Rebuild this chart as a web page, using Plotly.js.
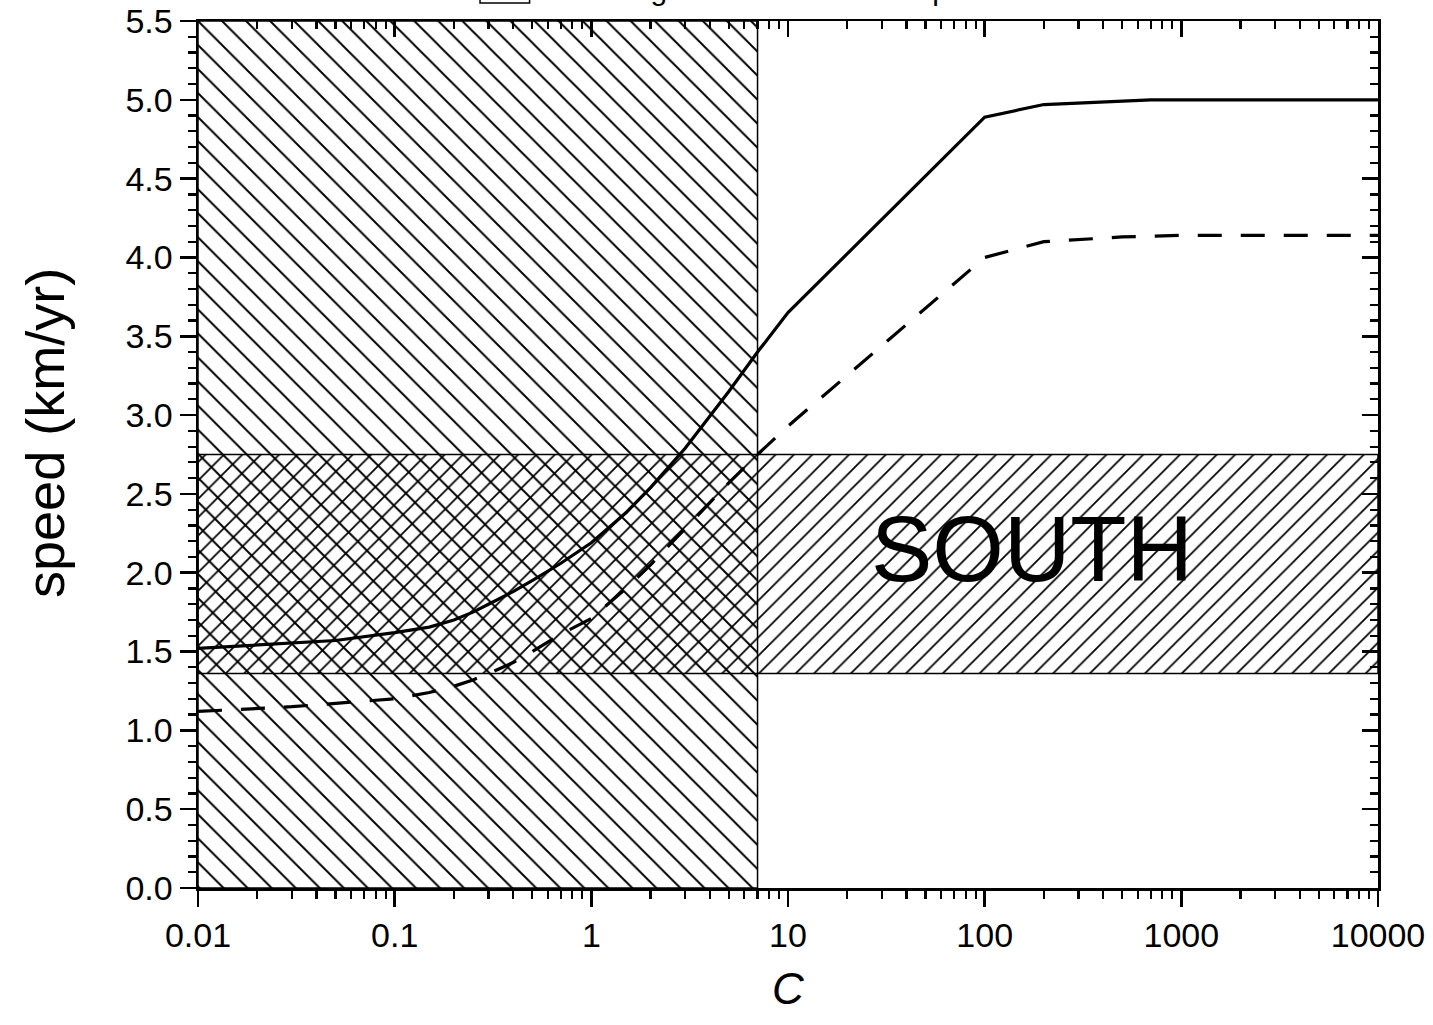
<!DOCTYPE html>
<html>
<head>
<meta charset="utf-8">
<script src="https://cdn.plot.ly/plotly-3.0.1.min.js"></script>
<style>html,body{margin:0;padding:0;background:#fff;}#chart{width:1433px;height:1025px;}</style>
</head>
<body>
<div id="chart"></div>
<script>
// ---- data ----
const solidX = [0.01, 0.05, 0.1, 0.15, 0.2, 0.25, 0.3, 0.4, 0.5, 0.7, 1, 1.5, 2, 3, 5, 7, 10, 100, 200, 700, 10000];
const solidY = [1.52, 1.57, 1.62, 1.655, 1.70, 1.75, 1.80, 1.88, 1.95, 2.06, 2.19, 2.38, 2.54, 2.79, 3.15, 3.40, 3.65, 4.89, 4.97, 5.00, 5.00];
const dashX = [0.01, 0.03, 0.1, 0.15, 0.2, 0.25, 0.3, 0.4, 0.5, 0.7, 1, 1.5, 2, 3, 5, 7, 10, 100, 200, 500, 1000, 10000];
const dashY = [1.12, 1.15, 1.20, 1.24, 1.28, 1.32, 1.36, 1.43, 1.50, 1.61, 1.71, 1.90, 2.05, 2.28, 2.57, 2.75, 2.93, 4.00, 4.10, 4.13, 4.14, 4.14];
// hatched ranges
const cRange = [0.01, 7];          // vertical band (C range)
const speedRange = [1.36, 2.75];   // horizontal band (SOUTH speed range)
const xLimits = [0.01, 10000];
const yLimits = [0, 5.5];
const xTickVals = [0.01, 0.1, 1, 10, 100, 1000, 10000];
const xTickText = ['0.01', '0.1', '1', '10', '100', '1000', '10000'];
const bandLabel = 'SOUTH';
const bandLabelPos = [174, 2.15];
const yTitle = 'speed (km/yr)';
const xTitle = '<i>C</i>';
const legendText = 'The range of the measured speeds of the Southern Ice Field and the upper';

// minor log ticks
const minorX = [];
for (let e = -2; e < 4; e++) for (let k = 2; k <= 9; k++) minorX.push(k * Math.pow(10, e));

const FONT = 'Liberation Sans, Arial, sans-serif';

const traces = [
  { // vertical band
    x: [cRange[0], cRange[1], cRange[1], cRange[0], cRange[0]],
    y: [yLimits[0], yLimits[0], yLimits[1], yLimits[1], yLimits[0]],
    mode: 'lines', fill: 'toself', fillcolor: 'rgba(255,255,255,0)',
    fillpattern: {shape: '\\', size: 17, solidity: 0.115, fgcolor: '#000', bgcolor: 'rgba(0,0,0,0)'},
    line: {color: '#000', width: 1.5}, hoverinfo: 'skip', showlegend: false
  },
  { // horizontal band
    x: [xLimits[0], xLimits[1], xLimits[1], xLimits[0], xLimits[0]],
    y: [speedRange[0], speedRange[0], speedRange[1], speedRange[1], speedRange[0]],
    mode: 'lines', fill: 'toself', fillcolor: 'rgba(255,255,255,0)',
    fillpattern: {shape: '/', size: 13, solidity: 0.135, fgcolor: '#000', bgcolor: 'rgba(0,0,0,0)'},
    line: {color: '#000', width: 1.5}, hoverinfo: 'skip', showlegend: false
  },
  {x: solidX, y: solidY, mode: 'lines', line: {color: '#000', width: 3.2}, showlegend: false},
  {x: dashX, y: dashY, mode: 'lines', line: {color: '#000', width: 3.2, dash: '24px,19px'}, showlegend: false},
  {x: [xLimits[0]], y: [yLimits[0]], xaxis: 'x2', yaxis: 'y2', mode: 'markers', marker: {opacity: 0}, hoverinfo: 'skip', showlegend: false}
];

const axCommon = {showgrid: false, zeroline: false, showline: true, linecolor: '#000', linewidth: 2.5,
  tickcolor: '#000', tickwidth: 2.5, ticklen: 16, tickfont: {family: FONT, size: 34, color: '#000'}};

const layout = {
  width: 1433, height: 1025,
  margin: {l: 198, r: 55, t: 21, b: 137},
  paper_bgcolor: '#fff', plot_bgcolor: '#fff',
  font: {family: FONT, color: '#000'},
  xaxis: Object.assign({}, axCommon, {
    type: 'log', range: [Math.log10(xLimits[0]), Math.log10(xLimits[1])],
    ticks: 'outside', tickmode: 'array', tickvals: xTickVals, ticktext: xTickText,
    minor: {tickmode: 'array', tickvals: minorX, ticks: 'outside', ticklen: 8, tickwidth: 2.2, tickcolor: '#000'},
    title: {text: xTitle, font: {family: FONT, size: 44, color: '#000'}, standoff: 20}
  }),
  yaxis: Object.assign({}, axCommon, {
    range: yLimits, ticks: 'outside', dtick: 0.5, tickformat: '.1f',
    minor: {dtick: 0.1, ticks: 'outside', ticklen: 8, tickwidth: 2.2, tickcolor: '#000'}
  }),
  xaxis2: Object.assign({}, axCommon, {
    type: 'log', range: [Math.log10(xLimits[0]), Math.log10(xLimits[1])], overlaying: 'x', side: 'top',
    ticks: 'inside', tickmode: 'array', tickvals: xTickVals, showticklabels: false,
    minor: {tickmode: 'array', tickvals: minorX, ticks: 'inside', ticklen: 8, tickwidth: 2.2, tickcolor: '#000'}
  }),
  yaxis2: Object.assign({}, axCommon, {
    range: yLimits, overlaying: 'y', side: 'right', ticks: 'inside', dtick: 0.5, showticklabels: false,
    minor: {dtick: 0.1, ticks: 'inside', ticklen: 8, tickwidth: 2.2, tickcolor: '#000'}
  }),
  annotations: [
    {x: Math.log10(bandLabelPos[0]), y: bandLabelPos[1], xref: 'x', yref: 'y', text: bandLabel, showarrow: false,
     font: {family: FONT, size: 92, color: '#000'}, xanchor: 'center', yanchor: 'middle'},
    {x: -0.1297, y: 0.5248, xref: 'paper', yref: 'paper', text: yTitle, showarrow: false, textangle: -90,
     font: {family: FONT, size: 54, color: '#000'}, xanchor: 'center', yanchor: 'middle'},
    {x: 0.294, y: 1.0358, xref: 'paper', yref: 'paper', text: legendText, showarrow: false,
     font: {family: FONT, size: 30, color: '#000'}, xanchor: 'left', yanchor: 'middle'}
  ],
  shapes: [
    {type: 'rect', xref: 'paper', yref: 'paper', x0: 0.239, x1: 0.281, y0: 1.0208, y1: 1.08,
     line: {color: '#000', width: 1.5}, fillcolor: 'rgba(0,0,0,0)'}
  ]
};

Plotly.newPlot('chart', traces, layout, {displayModeBar: false, staticPlot: true});
</script>
</body>
</html>
